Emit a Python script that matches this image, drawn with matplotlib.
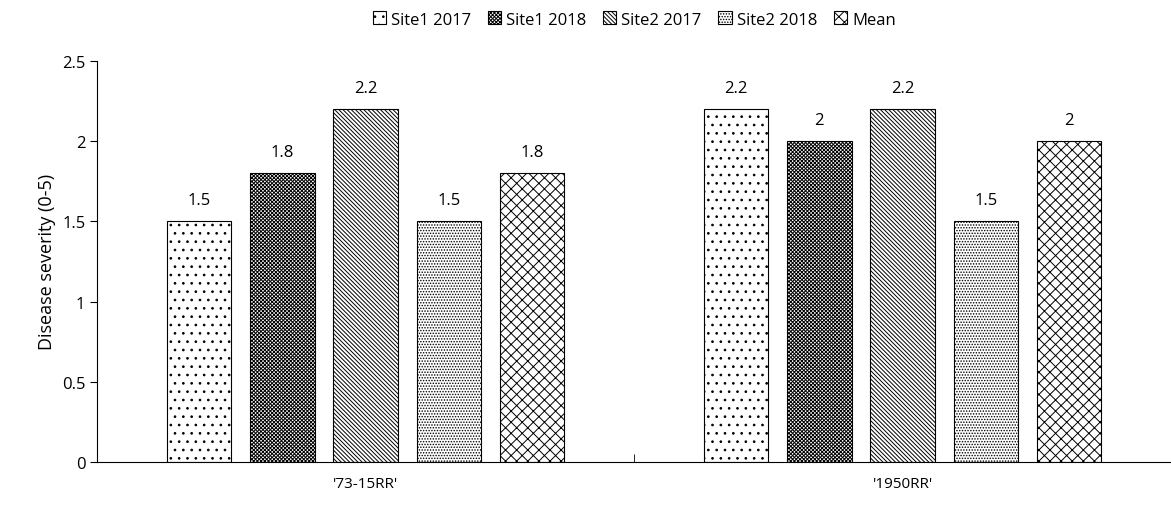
import matplotlib
matplotlib.use("Agg")
import matplotlib.pyplot as plt
import numpy as np

plt.rcParams['font.family'] = ['Open Sans', 'DejaVu Sans']
plt.rcParams['hatch.linewidth'] = 0.7

categories = ["'73-15RR'", "'1950RR'"]
series = ["Site1 2017", "Site1 2018", "Site2 2017", "Site2 2018", "Mean"]
values = [
    [1.5, 2.2],
    [1.8, 2.0],
    [2.2, 2.2],
    [1.5, 1.5],
    [1.8, 2.0],
]
labels = [["1.5", "2.2"], ["1.8", "2"], ["2.2", "2.2"], ["1.5", "1.5"], ["1.8", "2"]]
hatches = ['..', 'xxxxxxxxx', '\\\\\\\\\\\\\\\\', '......', 'xxx']

fig = plt.figure(figsize=(11.71, 5.10), dpi=100)
ax = fig.add_axes([0.083, 0.092, 0.917, 0.787])

x = np.arange(len(categories))
w = 0.12
step = 0.155
for i, (name, vals) in enumerate(zip(series, values)):
    pos = x + (i - 2) * step
    ax.bar(pos, vals, w, facecolor='white', edgecolor='black', linewidth=0.8,
           hatch=hatches[i], label=name)
    for p, v, t in zip(pos, vals, labels[i]):
        ax.text(p, v + 0.08, t, ha='center', va='bottom', fontsize=12)

ax.set_xlim(-0.5, 1.5)
ax.set_ylim(0, 2.5)
ax.set_yticks([0, 0.5, 1, 1.5, 2, 2.5])
ax.set_yticklabels(['0', '0.5', '1', '1.5', '2', '2.5'], fontsize=12)
ax.set_xticks(x)
ax.set_xticklabels(categories, fontsize=11)
ax.set_xticks([0.5], minor=True)
ax.tick_params(axis='x', which='major', length=0, pad=10)
ax.tick_params(axis='x', which='minor', length=6, direction='in')
ax.tick_params(axis='y', length=5, direction='out')
ax.set_ylabel('Disease severity (0-5)', fontsize=13)
for s in ['top', 'right']:
    ax.spines[s].set_visible(False)

ax.legend(loc='upper center', bbox_to_anchor=(0.5, 1.16), ncol=5, frameon=False,
          fontsize=12, handlelength=0.8, handleheight=0.8, columnspacing=1.0,
          handletextpad=0.3)

fig.savefig('out.png', dpi=100)
